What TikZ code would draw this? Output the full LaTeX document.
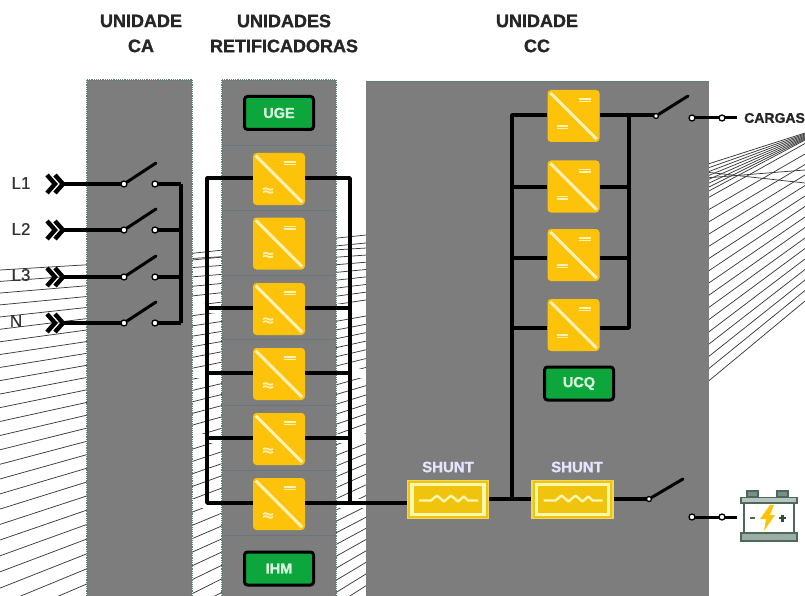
\documentclass[tikz,border=0pt]{standalone}
\usepackage{fontspec}
\setmainfont{Liberation Sans}
\newfontfamily\heavyfont[FakeBold=1.3]{Liberation Sans Bold}
\newfontfamily\semifont[FakeBold=0.6]{Liberation Sans}
\definecolor{panel}{HTML}{7D7D7D}
\definecolor{panedge}{HTML}{5E8079}
\definecolor{sep}{HTML}{68787A}
\definecolor{conv}{HTML}{FDC30A}
\definecolor{convline}{HTML}{FFF1B8}
\definecolor{ugreen}{HTML}{0DA63C}
\definecolor{utext}{HTML}{D8F3DC}
\definecolor{shuntc}{HTML}{F0C40C}
\definecolor{shuntl}{HTML}{FFF6B0}
\definecolor{batt}{HTML}{4C6A5C}
\definecolor{hatch}{HTML}{3C3C3C}
\tikzset{
  x=1pt,y=-1pt,
  panelbox/.style={fill=panel,draw=none},
  panedgeline/.style={draw=panedge,line width=1.2pt,densely dotted},
  sepline/.style={draw=sep,line width=1pt},
  hatchline/.style={draw=hatch,line width=.75pt},
  wire/.style={draw=black,line width=3.8pt,line join=round},
  thinwire/.style={draw=black,line width=3pt},
  halo/.style={draw=white,line width=9pt},
  lever/.style={draw=black,line width=3pt,line cap=round},
  term/.style={circle,draw=black,fill=white,line width=1.3pt,inner sep=0pt,minimum size=6pt},
  convbox/.style={fill=conv,draw=none,rounded corners=3.5pt,minimum width=52pt,minimum height=52pt,inner sep=0pt},
  unitbox/.style={fill=ugreen,draw=black,line width=3pt,rounded corners=3pt,minimum width=69pt,minimum height=33pt,inner sep=0pt,text=utext,font=\heavyfont\fontsize{14.5}{14.5}\selectfont},
  shuntbox/.style={fill=shuntc,draw=shuntc!70!white,line width=1.5pt,minimum width=81pt,minimum height=38pt,inner sep=0pt},
  shuntlabel/.style={text=white!90!blue,font=\heavyfont\fontsize{15}{15}\selectfont,inner sep=0pt},
  title/.style={align=center,text=black!85,inner sep=0pt,font=\heavyfont\fontsize{18}{25}\selectfont},
  phase/.style={text=black!80,inner sep=0pt,font=\semifont\fontsize{17}{17}\selectfont},
  chev/.style={draw=black,line width=4.4pt,line join=miter},
  mark line/.style={draw=convline,line width=1.7pt},
}
% converter: name, x, y, 1 if the lower mark is wavy
\newcommand{\convunit}[4]{%
  \node[convbox] (#1) at (#2,#3) {};
  \draw[draw=convline,line width=3pt] ($(#1.north west)+(3,3)$) -- ($(#1.south east)+(-3,-3)$);
  \draw[mark line] ($(#1)+(5,-17)$) -- ($(#1)+(17,-17)$);
  \draw[mark line] ($(#1)+(5,-14.5)$) -- ($(#1)+(17,-14.5)$);
  \ifnum#4=1
    \draw[mark line] ($(#1)+(-16,10)$) .. controls ($(#1)+(-12,7)$) and ($(#1)+(-10,13)$) .. ($(#1)+(-6,10)$);
    \draw[mark line] ($(#1)+(-16,13)$) .. controls ($(#1)+(-12,10)$) and ($(#1)+(-10,16)$) .. ($(#1)+(-6,13)$);
  \else
    \draw[mark line] ($(#1)+(-17,10)$) -- ($(#1)+(-6,10)$);
    \draw[mark line] ($(#1)+(-17,12.5)$) -- ($(#1)+(-6,12.5)$);
  \fi
}
\newcommand{\shuntunit}[3]{%
  \node[shuntbox] (#1) at (#2,#3) {};
  \draw[draw=shuntl,line width=3.4pt] ($(#1)+(-36,-15)$) rectangle ($(#1)+(36,15)$);
  \draw[draw=shuntl,line width=2.4pt,line join=round] ($(#1)+(-29,1)$) -- ($(#1)+(-17,1)$) -- ($(#1)+(-11,-4)$) -- ($(#1)+(-4,2)$) -- ($(#1)+(3,-4)$) -- ($(#1)+(10,2)$) -- ($(#1)+(16,-3)$) -- ($(#1)+(20,1)$) -- ($(#1)+(30,1)$);
}
\usetikzlibrary{calc}
\begin{document}
\begin{tikzpicture}
\useasboundingbox (0,0) rectangle (805,596);
\begin{scope}
\clip (0,0) rectangle (805,596);
% background hatch, left fan
\foreach \k in {0,...,43}{
  \pgfmathsetmacro{\yz}{270+11.3*\k+0.11*\k*\k}
  \pgfmathsetmacro{\yy}{\yz+(-0.06-0.00105*(\yz-270))*366}
  \draw[hatchline] (0,\yz) -- (366,\yy);
}
\draw[hatchline] (100,263) -- (366,235);
\draw[hatchline] (100,269) -- (366,243);
% background hatch, right fan
\foreach \yl/\yr in {165/133,169/134,173/135,177/136,181/137,185/138,189/139,193/140}{
  \draw[hatchline] (705,\yl) -- (805,\yr);
}
\foreach \k in {0,...,15}{
  \pgfmathsetmacro{\yl}{384-12.3*\k}
  \pgfmathsetmacro{\yr}{301-10.5*\k}
  \draw[hatchline] (705,\yl) -- (805,\yr);
}
\draw[hatchline] (705,172) -- (805,183);
\draw[hatchline] (705,178) -- (805,170);
\end{scope}
% halo of the rectifier rows over the hatch
\foreach \yy in {308,373,438,503}{
  \draw[halo] (192,\yy) -- (222,\yy);
  \draw[halo] (336,\yy) -- (366,\yy);
}
% panels
\fill[panelbox] (87,80) rectangle (192,596);
\fill[panelbox] (222,80) rectangle (336,596);
\fill[panelbox] (366,81) rectangle (709,596);
\draw[panedgeline] (87,80) -- (192,80) (192,80) -- (192,596) (87,80) -- (87,596);
\draw[panedgeline] (222,80) -- (336,80) (336,80) -- (336,596) (222,80) -- (222,596);
\draw[draw=panedge,line width=.8pt] (366,81) -- (709,81);
\foreach \yy in {146,210,275,339,405,470,535}{
  \draw[sepline] (223,\yy) -- (335,\yy);
}
% titles
\node[title] (tca) at (141,33.5) {UNIDADE\\CA};
\node[title] (tre) at (284,33.5) {UNIDADES\\RETIFICADORAS};
\node[title] (tcc) at (537,33.5) {UNIDADE\\CC};
% phase labels
\node[phase] (l1) at (21,183) {L1};
\node[phase] (l2) at (21,229) {L2};
\node[phase] (l3) at (21,275) {L3};
\node[phase] (ln) at (16,321) {N};
% AC unit
\foreach \n/\yy in {a/184,b/230,c/277,d/323}{
  \draw[chev] (47,\yy-9) -- (55,\yy) -- (47,\yy+9);
  \draw[chev] (55,\yy-9) -- (63,\yy) -- (55,\yy+9);
  \coordinate (in\n) at (61,\yy);
  \coordinate (bus\n) at (181,\yy);
  \coordinate (lv\n) at (156,\yy-21);
  \draw[wire] (in\n) -- (124,\yy);
  \draw[wire] (155,\yy) -- (bus\n);
  \node[term] (sl\n) at (124,\yy) {};
  \node[term] (sr\n) at (155,\yy) {};
  \draw[lever] (sl\n) -- (lv\n);
}
\draw[wire] (busa) -- (busd);
% rectifier units
\node[unitbox] (uge) at (279,113) {UGE};
\node[unitbox] (ihm) at (279,568.5) {IHM};
\convunit{r1}{279}{179}{1}
\convunit{r2}{279}{243.5}{1}
\convunit{r3}{279}{309}{1}
\convunit{r4}{279}{374}{1}
\convunit{r5}{279}{439}{1}
\convunit{r6}{279}{504}{1}
\coordinate (lb1) at (207,178);
\coordinate (rb1) at (350,178);
\coordinate (lb6) at (207,503);
\coordinate (rb6) at (350,503);
\draw[wire] (r1.west |- lb1) -- (lb1) -- (lb6) -- (r6.west |- lb6);
\draw[wire] (r1.east |- rb1) -- (rb1) -- (rb6) -- (r6.east |- rb6);
\foreach \r/\yy in {r3/308,r4/373,r5/438}{
  \draw[wire] (207,\yy) -- (\r.west |- 0,\yy);
  \draw[wire] (350,\yy) -- (\r.east |- 0,\yy);
}
% DC unit
\convunit{d1}{573.5}{116}{0}
\convunit{d2}{573.5}{186.5}{0}
\convunit{d3}{573.5}{255}{0}
\convunit{d4}{573.5}{325}{0}
\node[unitbox] (ucq) at (579,383.5) {UCQ};
\shuntunit{s1}{448}{499.5}
\shuntunit{s2}{572.5}{499.5}
\node[shuntlabel] (s1t) at (448,467) {SHUNT};
\node[shuntlabel] (s2t) at (577,467) {SHUNT};
\coordinate (ltop) at (512,115);
\coordinate (rtop) at (629,115);
\coordinate (lbot) at (512,499);
\coordinate (rbot) at (629,328);
\draw[wire] (r6.east |- rb6) -- (s1.west |- rb6);
\draw[wire] (s1.east |- lbot) -- (s2.west |- lbot);
\draw[wire] (d1.west |- ltop) -- (ltop) -- (lbot);
\draw[wire] (d2.west |- 0,187) -- (512,187);
\draw[wire] (d3.west |- 0,258) -- (512,258);
\draw[wire] (d4.west |- 0,328) -- (512,328);
\draw[wire] (d2.east |- 0,187) -- (629,187);
\draw[wire] (d3.east |- 0,258) -- (629,258);
\draw[wire] (d4.east |- rbot) -- (rbot) -- (rtop);
% load switch
\coordinate (lv1) at (688,96);
\coordinate (out1) at (737,118);
\draw[wire] (d1.east |- rtop) -- (656,115);
\draw[thinwire] (692,118) -- (out1);
\node[term,minimum size=5pt] (sw1) at (656,116) {};
\node[term] (sw1b) at (692,118) {};
\node[term] (sw1c) at (722,118) {};
\draw[lever] (sw1) -- (lv1);
\node[inner sep=0pt,anchor=west,text=black!85,font=\heavyfont\fontsize{14}{14}\selectfont] (cargas) at (744,118) {CARGAS};
% battery switch
\coordinate (lv2) at (683,479);
\coordinate (out2) at (737,517);
\draw[wire] (s2.east |- lbot) -- (649,499);
\draw[thinwire] (692,517) -- (out2);
\node[term,minimum size=5pt] (sw2) at (649,499) {};
\node[term] (sw2b) at (692,517) {};
\node[term] (sw2c) at (722,517) {};
\draw[lever] (sw2) -- (lv2);
% battery
\filldraw[fill=batt!75!white,draw=batt,line width=1.6pt] (747,497) -- (747,491) -- (758,491) -- (758,497) -- cycle (777,497) -- (777,491) -- (788,491) -- (788,497) -- cycle;
\draw[draw=batt,line width=2.4pt,fill=white] (744,503) rectangle (794,533);
\draw[draw=batt,line width=1.8pt,fill=batt!40!white] (741,497.5) rectangle (797,503);
\draw[draw=batt,line width=1.8pt,fill=batt!55!white] (741,533) rectangle (797,541);
\draw[draw=batt,line width=2.4pt] (750,518) -- (755,518);
\draw[draw=batt!70!black,line width=2.2pt] (779,518) -- (786,518) (782.5,514.5) -- (782.5,521.5);
\fill[conv] (770,505) -- (760,519) -- (766,519) -- (764,531) -- (775,515) -- (770,515) -- (774,505) -- cycle;
\end{tikzpicture}
\end{document}
